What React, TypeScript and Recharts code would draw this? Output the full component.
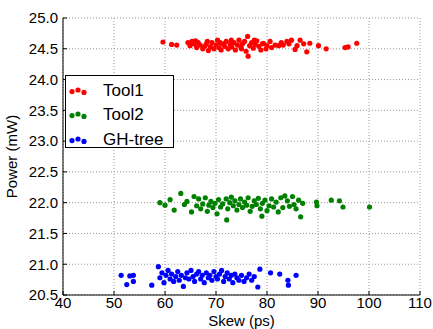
import React from "react";
import {
  CartesianGrid,
  Legend,
  Scatter,
  ScatterChart,
  XAxis,
  YAxis,
} from "recharts";

const FONT = '"Liberation Sans", Arial, sans-serif';

const xTicks = [40, 50, 60, 70, 80, 90, 100, 110];
const yTicks = [20.5, 21.0, 21.5, 22.0, 22.5, 23.0, 23.5, 24.0, 24.5, 25.0];

const seriesNames = ["Tool1", "Tool2", "GH-tree"];
const seriesColors = ["#ff0000", "#008000", "#0000ff"];

// Tool1 (red) — skew, power
const tool1Skew = [
  59.6, 61.3, 62.3, 64.5, 64.9, 65.3, 65.7, 66.0, 66.2, 66.5, 66.9, 67.4, 67.8, 68.1, 68.3, 68.5,
  68.9, 69.2, 69.6, 70.0, 70.3, 70.6, 70.8, 71.0, 71.3, 71.7, 72.0, 72.4, 72.8, 73.0, 73.1, 73.5,
  73.8, 74.2, 74.5, 74.9, 75.0, 75.2, 75.6, 75.9, 76.2, 76.3, 76.6, 77.0, 77.3, 77.5, 77.7, 78.0,
  78.4, 78.8, 79.1, 79.3, 79.8, 80.0, 80.6, 80.9, 81.6, 82.3, 82.8, 83.2, 83.9, 84.3, 84.8, 85.5,
  85.9, 86.5, 87.2, 87.8, 88.4, 90.1, 91.6, 95.3, 95.9, 97.6,
];
const tool1Power = [
  24.61, 24.57, 24.56, 24.6, 24.55, 24.62, 24.58, 24.63, 24.52, 24.6, 24.56, 24.5, 24.54, 24.58, 24.62, 24.47,
  24.53, 24.6, 24.5, 24.56, 24.64, 24.52, 24.6, 24.48, 24.58, 24.54, 24.62, 24.5, 24.57, 24.64, 24.53, 24.6,
  24.48, 24.56, 24.64, 24.52, 24.5, 24.58, 24.62, 24.46, 24.7, 24.38, 24.55, 24.6, 24.51, 24.64, 24.57, 24.63,
  24.54, 24.48, 24.58, 24.59, 24.5, 24.55, 24.62, 24.52, 24.56, 24.55, 24.6, 24.56, 24.62, 24.58, 24.64, 24.49,
  24.55, 24.64, 24.58, 24.45, 24.59, 24.55, 24.5, 24.52, 24.53, 24.59,
];

// Tool2 (green)
const tool2Skew = [
  59.0, 60.0, 61.0, 61.8, 63.1, 63.8, 64.3, 65.2, 65.7, 66.2, 66.6, 67.0, 67.4, 67.9, 68.3, 68.6,
  69.0, 69.4, 69.8, 70.2, 70.5, 70.9, 71.3, 72.1, 72.0, 72.3, 72.7, 73.0, 73.4, 73.7, 74.1, 74.5,
  74.8, 75.2, 75.6, 76.0, 76.3, 76.7, 77.1, 77.5, 77.9, 78.3, 78.7, 79.0, 79.1, 79.6, 80.0, 80.4,
  80.9, 81.3, 81.8, 82.2, 82.7, 83.1, 83.5, 84.0, 84.4, 85.0, 85.3, 85.7, 86.2, 86.6, 87.0, 89.7,
  89.8, 92.6, 94.2, 94.9, 100.1,
];
const tool2Power = [
  22.0, 21.96, 22.05, 21.88, 22.15, 21.97, 22.02, 21.85, 22.1, 21.95, 22.06, 21.9, 21.98, 22.08, 21.86, 21.96,
  22.02, 21.92, 21.99, 21.82, 22.05, 21.93, 21.98, 21.72, 22.06, 21.9, 22.0, 22.09, 21.95, 22.03, 21.88, 21.97,
  22.06, 21.92, 22.01, 21.96, 22.08, 21.86, 21.94, 22.03, 21.97, 22.07, 21.9, 21.78, 21.99, 22.04, 21.87, 21.95,
  22.06, 21.93, 22.01, 21.85, 22.08, 21.92, 22.11, 22.03, 21.94, 22.1, 21.97, 21.9, 22.04, 21.77, 21.99, 22.01,
  21.95, 22.04, 22.03, 21.93, 21.93,
];

// GH-tree (blue)
const ghSkew = [
  51.4, 52.5, 53.1, 53.8, 53.8, 57.4, 58.7, 59.0, 59.4, 59.8, 60.2, 60.6, 61.0, 61.3, 61.7, 62.1,
  62.5, 62.8, 63.2, 63.6, 64.0, 64.3, 64.7, 65.1, 65.5, 65.8, 66.2, 66.6, 67.0, 67.3, 67.7, 68.1,
  68.5, 68.8, 69.2, 69.6, 70.0, 70.3, 70.7, 71.1, 71.5, 71.8, 72.2, 72.6, 73.0, 73.3, 73.7, 74.1,
  74.5, 75.0, 75.5, 76.0, 76.5, 77.0, 77.5, 78.2, 78.6, 80.7, 82.5, 84.1, 84.2, 85.7,
];
const ghPower = [
  20.82, 20.67, 20.81, 20.82, 20.72, 20.66, 20.96, 20.78, 20.86, 20.7, 20.82, 20.9, 20.76, 20.84, 20.72, 20.8,
  20.88, 20.74, 20.82, 20.64, 20.78, 20.86, 20.76, 20.9, 20.8, 20.72, 20.84, 20.88, 20.76, 20.82, 20.7, 20.86,
  20.78, 20.82, 20.74, 20.88, 20.8, 20.76, 20.84, 20.9, 20.72, 20.8, 20.86, 20.76, 20.82, 20.7, 20.84, 20.78,
  20.74, 20.82, 20.72, 20.78, 20.84, 20.74, 20.8, 20.63, 20.92, 20.86, 20.84, 20.74, 20.66, 20.82,
];

const toPoints = (xs: number[], ys: number[]) => xs.map((x, i) => ({ x, y: ys[i] }));

const seriesData = [
  toPoints(tool1Skew, tool1Power),
  toPoints(tool2Skew, tool2Power),
  toPoints(ghSkew, ghPower),
];

const dot = (color: string) => (props: any) =>
  <circle cx={props.cx} cy={props.cy} r={2.6} fill={color} />;

// matplotlib-style legend: three scatter points per entry
function LegendBox() {
  const offsets = [1.6, 0, 2.4];
  return (
    <div
      style={{
        width: 109,
        height: 73,
        boxSizing: "border-box",
        border: "1px solid #000",
        background: "#fff",
        paddingTop: 3,
        fontFamily: FONT,
      }}
    >
      {seriesNames.map((name, i) => (
        <div
          key={name}
          style={{ display: "flex", alignItems: "center", height: 24.3, lineHeight: "20px" }}
        >
          <svg width={32} height={14} style={{ display: "block", flex: "none" }}>
            {[6, 12, 18].map((cx, j) => (
              <circle key={j} cx={cx} cy={6 + offsets[j]} r={2.6} fill={seriesColors[i]} />
            ))}
          </svg>
          <span style={{ fontSize: 17, color: "#000", marginLeft: 5, whiteSpace: "nowrap" }}>
            {name}
          </span>
        </div>
      ))}
    </div>
  );
}

export default function App() {
  const tickStyle = { fontSize: 15, fill: "#000", fontFamily: FONT };
  return (
    <div style={{ position: "absolute", left: 0, top: 0, background: "#fff" }}>
      <ScatterChart
        width={433}
        height={329}
        margin={{ top: 18, right: 13, bottom: 0, left: 0 }}
        style={{ fontFamily: FONT }}
      >
        <CartesianGrid stroke="#999" strokeDasharray="1 2" />
        <XAxis
          type="number"
          dataKey="x"
          domain={[40, 110]}
          ticks={xTicks}
          interval={0}
          height={34}
          tick={tickStyle}
          tickSize={-4}
          tickMargin={6}
          axisLine={{ stroke: "#000" }}
          tickLine={{ stroke: "#000" }}
          label={{
            value: "Skew (ps)",
            position: "insideBottom",
            offset: 3,
            style: { fontSize: 15, fill: "#000", fontFamily: FONT },
          }}
        />
        <XAxis
          xAxisId="top"
          orientation="top"
          type="number"
          dataKey="x"
          domain={[40, 110]}
          ticks={xTicks}
          height={0}
          tick={false}
          tickSize={-4}
          axisLine={{ stroke: "#000" }}
          tickLine={{ stroke: "#000" }}
        />
        <YAxis
          type="number"
          dataKey="y"
          domain={[20.5, 25]}
          ticks={yTicks}
          interval={0}
          width={63}
          tick={tickStyle}
          tickFormatter={(v: number) => v.toFixed(1)}
          tickSize={-4}
          tickMargin={9}
          axisLine={{ stroke: "#000" }}
          tickLine={{ stroke: "#000" }}
          label={{
            value: "Power (mW)",
            angle: -90,
            position: "insideLeft",
            offset: 12,
            style: { fontSize: 15, fill: "#000", fontFamily: FONT, textAnchor: "middle" },
          }}
        />
        <YAxis
          yAxisId="right"
          orientation="right"
          type="number"
          dataKey="y"
          domain={[20.5, 25]}
          ticks={yTicks}
          width={0}
          tick={false}
          tickSize={-4}
          axisLine={{ stroke: "#000" }}
          tickLine={{ stroke: "#000" }}
        />
        <Legend
          layout="vertical"
          align="center"
          verticalAlign="middle"
          content={() => <LegendBox />}
          wrapperStyle={{ position: "absolute", left: 65, top: 75, width: 109, height: 73 }}
        />
        {seriesData.map((data, i) => (
          <Scatter
            key={seriesNames[i]}
            name={seriesNames[i]}
            data={data}
            fill={seriesColors[i]}
            shape={dot(seriesColors[i])}
            isAnimationActive={false}
          />
        ))}
      </ScatterChart>
    </div>
  );
}
